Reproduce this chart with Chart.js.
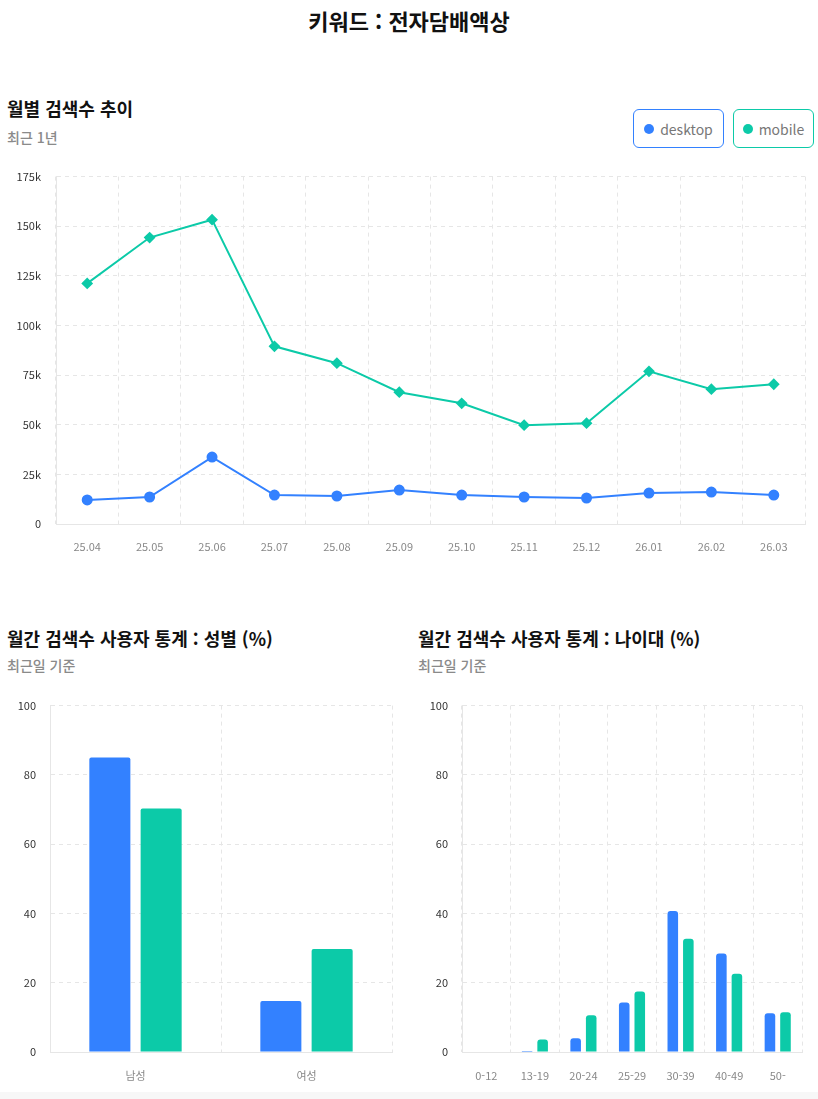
<!DOCTYPE html>
<html lang="ko">
<head>
<meta charset="utf-8">
<script src="https://cdn.jsdelivr.net/npm/chart.js@4.4.1/dist/chart.umd.min.js"></script>
<style>
  html, body { margin:0; padding:0; background:#fff; }
  body { width:818px; height:1099px; position:relative; overflow:hidden; font-family:"Noto Sans CJK KR","Noto Sans",sans-serif; }
  .abs { position:absolute; }
  .main-title { left:0; width:818px; top:4px; text-align:center; font-size:22px; font-weight:700; color:#111; line-height:32px; }
  .sec-title { font-size:18px; font-weight:700; color:#111; line-height:26px; }
  .sec-sub { font-size:14px; font-weight:500; color:#8a8a8a; line-height:20px; }
  .lg { top:109px; height:39px; border:1px solid; border-radius:6px; box-sizing:border-box; display:flex; align-items:center; justify-content:center; font-size:14px; color:#777; }
  .lg span.dot { width:10px; height:10px; border-radius:50%; display:inline-block; margin-right:6px; }
  .foot { left:0; top:1092px; width:818px; height:7px; background:#f7f7f7; }
</style>
</head>
<body>
<div class="abs main-title">키워드 : 전자담배액상</div>

<div class="abs sec-title" style="left:7px; top:95px;">월별 검색수 추이</div>
<div class="abs sec-sub" style="left:7px; top:127px;">최근 1년</div>
<div class="abs lg" style="left:633px; width:91px; border-color:#3381ff;"><span class="dot" style="background:#3381ff"></span>desktop</div>
<div class="abs lg" style="left:733px; width:81px; border-color:#0ccaa8;"><span class="dot" style="background:#0ccaa8"></span>mobile</div>

<div class="abs" style="left:0; top:155px; width:818px; height:410px;"><canvas id="lineChart"></canvas></div>

<div class="abs sec-title" style="left:7px; top:625px;">월간 검색수 사용자 통계 : 성별 (%)</div>
<div class="abs sec-sub" style="left:7px; top:655px;">최근일 기준</div>
<div class="abs sec-title" style="left:418px; top:625px;">월간 검색수 사용자 통계 : 나이대 (%)</div>
<div class="abs sec-sub" style="left:418px; top:655px;">최근일 기준</div>

<div class="abs" style="left:0; top:685px; width:400px; height:410px;"><canvas id="genderChart"></canvas></div>
<div class="abs" style="left:410px; top:685px; width:400px; height:410px;"><canvas id="ageChart"></canvas></div>
<div class="abs foot"></div>

<script>
// ---- data ----
const months = ['25.04','25.05','25.06','25.07','25.08','25.09','25.10','25.11','25.12','26.01','26.02','26.03'];
const desktopMonthly = [12100, 13600, 33700, 14600, 14100, 17100, 14600, 13600, 13100, 15600, 16100, 14600];
const mobileMonthly  = [121200, 144300, 153300, 89500, 81000, 66400, 60800, 49800, 50800, 76900, 67900, 70400];

const genderLabels = ['남성', '여성'];
const desktopGender = [85.0, 14.7];
const mobileGender  = [70.3, 29.7];

const ageLabels = ['0-12', '13-19', '20-24', '25-29', '30-39', '40-49', '50-'];
const desktopAge = [0, 0.3, 4.0, 14.3, 40.7, 28.4, 11.2];
const mobileAge  = [0, 3.6, 10.6, 17.5, 32.7, 22.6, 11.5];

// ---- style ----
const BLUE = '#3381ff';
const GREEN = '#0ccaa8';
const GRID = '#e6e6e6';
const FONT = '"Noto Sans CJK KR","Noto Sans",sans-serif';

Chart.defaults.font.family = FONT;
Chart.defaults.animation = false;

function gridOpts(offset) {
  return { color: GRID, lineWidth: 1, drawTicks: false, offset: offset };
}
const borderOpts = { display: true, color: GRID, dash: [4,4] };

new Chart(document.getElementById('lineChart'), {
  type: 'line',
  data: {
    labels: months,
    datasets: [
      { label: 'desktop', data: desktopMonthly, borderColor: BLUE, backgroundColor: BLUE, borderWidth: 2,
        pointStyle: 'circle', pointRadius: 4.5, pointHoverRadius: 5, tension: 0 },
      { label: 'mobile', data: mobileMonthly, borderColor: GREEN, backgroundColor: GREEN, borderWidth: 2,
        pointStyle: 'rectRot', pointRadius: 4.5, pointHoverRadius: 5, tension: 0 }
    ]
  },
  options: {
    responsive: true, maintainAspectRatio: false,
    layout: { padding: { top: 0, right: 13, left: 0, bottom: 0 } },
    plugins: { legend: { display: false }, tooltip: { enabled: false } },
    scales: {
      x: {
        offset: true,
        grid: gridOpts(true),
        border: borderOpts,
        ticks: { color: '#888', font: { size: 11 }, padding: 16, maxRotation: 0 },
        afterFit: s => { s.height = 41; }
      },
      y: {
        min: 0, max: 175000,
        grid: gridOpts(false),
        border: borderOpts,
        ticks: { stepSize: 25000, color: '#333', font: { size: 11 }, padding: 15,
          callback: v => v === 0 ? '0' : (v/1000) + 'k' },
        afterFit: s => { s.width = 56; }
      }
    }
  }
});

function barChart(id, labels, d1, d2, cp, bp, radius, yWidth) {
  return new Chart(document.getElementById(id), {
    type: 'bar',
    data: {
      labels: labels,
      datasets: [
        { label: 'desktop', data: d1, backgroundColor: BLUE, categoryPercentage: cp, barPercentage: bp,
          borderRadius: { topLeft: radius, topRight: radius }, borderSkipped: 'bottom' },
        { label: 'mobile', data: d2, backgroundColor: GREEN, categoryPercentage: cp, barPercentage: bp,
          borderRadius: { topLeft: radius, topRight: radius }, borderSkipped: 'bottom' }
      ]
    },
    options: {
      responsive: true, maintainAspectRatio: false,
      layout: { padding: { top: 0, right: 8, left: 0, bottom: 0 } },
      plugins: { legend: { display: false }, tooltip: { enabled: false } },
      scales: {
        x: {
          grid: gridOpts(true),
          border: borderOpts,
          ticks: { color: '#888', font: { size: 11 }, padding: 17, maxRotation: 0 },
          afterFit: s => { s.height = 43; }
        },
        y: {
          min: 0, max: 100,
          grid: gridOpts(false),
          border: borderOpts,
          ticks: { stepSize: 20, color: '#333', font: { size: 11 }, padding: 14 },
          afterFit: s => { s.width = yWidth; }
        }
      }
    }
  });
}

barChart('genderChart', genderLabels, desktopGender, mobileGender, 0.6, 0.8, 2, 50);
barChart('ageChart', ageLabels, desktopAge, mobileAge, 0.64, 0.68, 3, 52);
</script>
</body>
</html>
